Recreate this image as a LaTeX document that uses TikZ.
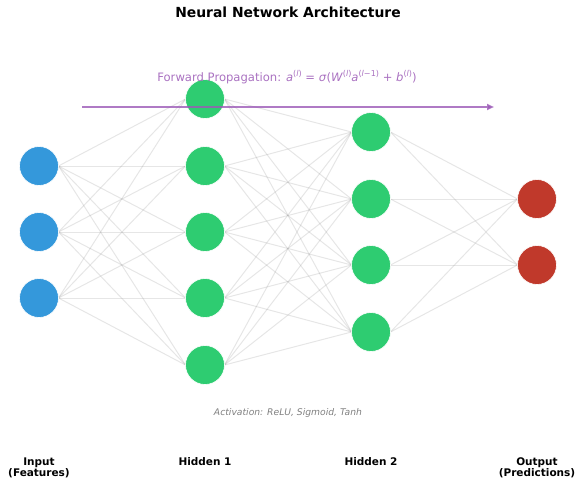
\documentclass[tikz,border=0pt]{standalone}
\usepackage{fontspec}
\setmainfont{DejaVu Sans}
\usetikzlibrary{arrows.meta,backgrounds}
\definecolor{cin}{HTML}{3498DB}
\definecolor{chid}{HTML}{2ECC71}
\definecolor{cout}{HTML}{C0392B}
\definecolor{cpur}{HTML}{9B59B6}
\newcommand\supx[1]{\raisebox{0.42em}{\fontsize{8.1}{9}\selectfont #1}}
\begin{document}
\begin{tikzpicture}[x=1pt,y=-1pt,
  neuron/.style={circle,minimum size=39pt,inner sep=0pt,outer sep=0pt,draw=white,line width=0.6pt},
  innode/.style={neuron,fill=cin},
  hidnode/.style={neuron,fill=chid},
  outnode/.style={neuron,fill=cout},
  conn/.style={draw=black!50,opacity=0.2,line width=1pt},
  flow/.style={draw=cpur,opacity=0.8,line width=2pt,-{Triangle[length=7pt,width=6pt]}},
  lbl/.style={font=\fontsize{10.5}{11.5}\selectfont\bfseries,align=center,anchor=north,inner sep=0pt},
  ttl/.style={font=\fontsize{13.9}{16}\selectfont\bfseries,anchor=base,inner sep=0pt},
  formula/.style={font=\fontsize{11.6}{13}\selectfont,text=cpur!85,anchor=base,inner sep=0pt},
  note/.style={font=\fontsize{9.2}{11}\selectfont\itshape,text=black!50,anchor=base,inner sep=0pt},
]
\useasboundingbox (0,0) rectangle (576,479);

\foreach \i/\y in {1/166,2/232,3/298}{\node[innode] (in\i) at (39,\y) {};}
\foreach \i/\y in {1/99,2/166,3/232,4/298,5/365}{\node[hidnode] (ha\i) at (205,\y) {};}
\foreach \i/\y in {1/132,2/199,3/265,4/332}{\node[hidnode] (hb\i) at (371,\y) {};}
\foreach \i/\y in {1/199,2/265}{\node[outnode] (out\i) at (537,\y) {};}

\begin{scope}[on background layer]
\foreach \i in {1,2,3}{\foreach \j in {1,...,5}{\draw[conn] (in\i.east) -- (ha\j.west);}}
\foreach \i in {1,...,5}{\foreach \j in {1,...,4}{\draw[conn] (ha\i.east) -- (hb\j.west);}}
\foreach \i in {1,...,4}{\foreach \j in {1,2}{\draw[conn] (hb\i.east) -- (out\j.west);}}
\end{scope}

\node[ttl] (title) at (288,17.3) {Neural Network Architecture};

\coordinate (fs) at (82,107);
\coordinate (fe) at (494,107);
\draw[flow] (fs) -- (fe);

\node[formula] (fp) at (287,81.7) {Forward Propagation: \textit{a}\supx{(\textit{l})} = \textit{σ}(\textit{W}\supx{(\textit{l})}\textit{a}\supx{(\textit{l}−1)} + \textit{b}\supx{(\textit{l})})};

\node[note] (act) at (288,415) {Activation: ReLU, Sigmoid, Tanh};

\node[lbl] (lin) at (39,457.3) {Input\\(Features)};
\node[lbl] (lh1) at (205,457.3) {Hidden 1};
\node[lbl] (lh2) at (371,457.3) {Hidden 2};
\node[lbl] (lout) at (537,457.3) {Output\\(Predictions)};
\end{tikzpicture}
\end{document}
